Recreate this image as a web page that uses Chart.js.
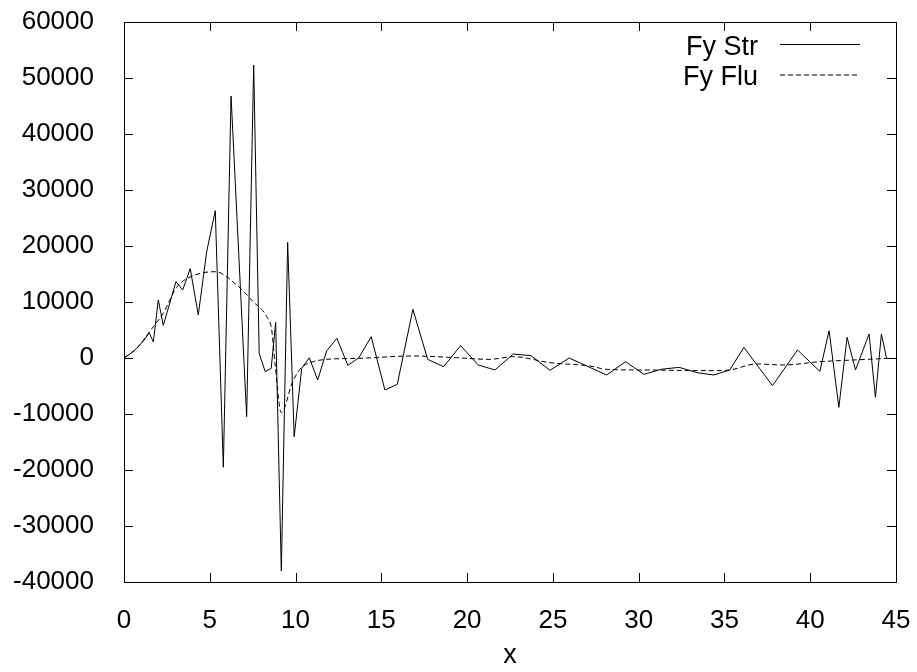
<!DOCTYPE html>
<html>
<head>
<meta charset="utf-8">
<script src="https://cdn.jsdelivr.net/npm/chart.js@4.4.1/dist/chart.umd.min.js"></script>
<style>
    html, body { margin: 0; padding: 0; background: #fff; }
</style>
</head>
<body>
<canvas id="forceChart" width="917" height="672"></canvas>
<script>
// Fy Str (solid)
const strX = [0, 0.35, 0.74, 1.13, 1.47, 1.71, 2.00, 2.29, 3.03, 3.42, 3.86, 4.33, 4.82, 5.32, 5.79,
    6.24, 7.15, 7.56, 7.88, 8.23, 8.58, 8.84, 9.17, 9.54, 9.92, 10.36, 10.80, 11.29, 11.81, 12.41,
    13.05, 13.69, 14.41, 15.21, 15.93, 16.84, 17.70, 18.63, 19.62, 20.65, 21.62, 22.69, 23.72, 24.83,
    25.95, 28.13, 29.24, 30.30, 31.35, 32.36, 33.41, 34.38, 35.31, 36.13, 37.80, 39.26, 40.56, 41.10,
    41.67, 42.15, 42.64, 43.43, 43.80, 44.15, 44.45];
const strY = [0, 710, 1730, 3040, 4520, 2860, 10360, 5830, 13630, 12140, 15950, 7680, 18990, 26300, -19520,
    46790, -10480, 52320, 830, -2440, -1850, 6370, -38030, 20660, -14050, -1850, 50, -3930, 1250, 3510,
    -1310, 50, 3810, -5710, -4700, 8690, -240, -1550, 2200, -1250, -2140, 710, 420, -2200,
    0, -3040, -660, -2920, -2000, -1670, -2620, -3040, -2140, 1900, -4940, 1430, -2380, 4880,
    -8810, 3690, -2140, 4290, -7020, 4290, -60];

// Fy Flu (dashed)
const fluX = [0, 0.74, 1.71, 2.29, 3.07, 4.04, 5.32, 6.57, 7.53, 8.32, 8.61, 8.80, 9.17, 9.83, 10.36,
    11.03, 11.81, 13.69, 16.84, 19.39, 21.33, 22.69, 24.83, 27.16, 28.13, 30.30, 34.38, 35.31, 36.87,
    38.42, 40.56, 42.50, 44.54];
const fluY = [0, 1730, 5600, 7980, 12620, 14700, 15410, 13040, 10060, 7380, 5000, -950, -9760, -4230, -1670,
    -660, -240, -60, 360, 50, -240, 240, -830, -1430, -2020, -2140, -2260, -2140, -1070,
    -1250, -660, -360, -60];

const seriesLabels = ['Fy Str', 'Fy Flu'];
const xTicks = [0, 5, 10, 15, 20, 25, 30, 35, 40, 45];
const yTicks = [-40000, -30000, -20000, -10000, 0, 10000, 20000, 30000, 40000, 50000, 60000];

const FONT = '"Liberation Sans", Arial, Helvetica, sans-serif';
Chart.defaults.font.family = FONT;
Chart.defaults.font.size = 27;
Chart.defaults.color = '#000';

const toPoints = (xs, ys) => xs.map((x, i) => ({ x: x, y: ys[i] }));

// gnuplot style box with inward ticks on all four sides
const framePlugin = {
    id: 'frame',
    afterDatasetsDraw(chart) {
        const { ctx, chartArea: a, scales } = chart;
        const len = 9;
        ctx.save();
        ctx.strokeStyle = '#000';
        ctx.lineWidth = 1;
        ctx.beginPath();
        xTicks.forEach(v => {
            const px = Math.round(scales.x.getPixelForValue(v)) + 0.5;
            ctx.moveTo(px, a.bottom); ctx.lineTo(px, a.bottom - len);
            ctx.moveTo(px, a.top); ctx.lineTo(px, a.top + len);
        });
        yTicks.forEach(v => {
            const py = Math.round(scales.y.getPixelForValue(v)) + 0.5;
            ctx.moveTo(a.left, py); ctx.lineTo(a.left + len, py);
            ctx.moveTo(a.right, py); ctx.lineTo(a.right - len, py);
        });
        ctx.stroke();
        ctx.strokeRect(Math.round(a.left) + 0.5, Math.round(a.top) + 0.5,
            Math.round(a.right - a.left), Math.round(a.bottom - a.top));
        ctx.restore();
    }
};

// key in the top right corner: text, then line sample
const keyPlugin = {
    id: 'key',
    afterDraw(chart) {
        const { ctx, chartArea: a } = chart;
        ctx.save();
        ctx.font = '27px ' + FONT;
        ctx.fillStyle = '#000';
        ctx.textAlign = 'right';
        ctx.textBaseline = 'alphabetic';
        chart.data.datasets.forEach((ds, i) => {
            const rowY = a.top + 22.5 + i * 30.5;
            ctx.fillText(ds.label, a.right - 138, rowY + 10);
            ctx.strokeStyle = ds.borderColor;
            ctx.lineWidth = 1;
            ctx.setLineDash(ds.borderDash || []);
            ctx.beginPath();
            ctx.moveTo(a.right - 116, rowY);
            ctx.lineTo(a.right - 36, rowY);
            ctx.stroke();
        });
        ctx.restore();
    }
};

new Chart(document.getElementById('forceChart'), {
    type: 'line',
    data: {
        datasets: [{
            label: seriesLabels[0],
            data: toPoints(strX, strY),
            borderColor: '#000',
            borderWidth: 1,
            pointRadius: 0,
            tension: 0
        }, {
            label: seriesLabels[1],
            data: toPoints(fluX, fluY),
            borderColor: '#000',
            borderWidth: 1,
            borderDash: [5, 3],
            pointRadius: 0,
            cubicInterpolationMode: 'monotone'
        }]
    },
    options: {
        responsive: false,
        animation: false,
        devicePixelRatio: 1,
        layout: { padding: { top: 22, right: 21, left: 0, bottom: 0 } },
        plugins: {
            legend: { display: false },
            tooltip: { enabled: false }
        },
        scales: {
            x: {
                type: 'linear',
                min: 0,
                max: 45,
                grid: { display: false },
                border: { display: false },
                ticks: { stepSize: 5, padding: 15, maxRotation: 0, font: { size: 26 }, callback: v => String(v) },
                title: { display: true, text: 'x', padding: { top: 0, bottom: 0 } },
                afterFit: s => {
                    s.height = 90;
                    s.paddingLeft = 0;
                    s.paddingRight = 0;
                }
            },
            y: {
                min: -40000,
                max: 60000,
                grid: { display: false },
                border: { display: false },
                ticks: { stepSize: 10000, padding: 22, font: { size: 26 }, callback: v => String(v) },
                afterFit: s => {
                    s.width = 124;
                    s.paddingTop = 0;
                    s.paddingBottom = 0;
                }
            }
        }
    },
    plugins: [framePlugin, keyPlugin]
});
</script>
</body>
</html>
